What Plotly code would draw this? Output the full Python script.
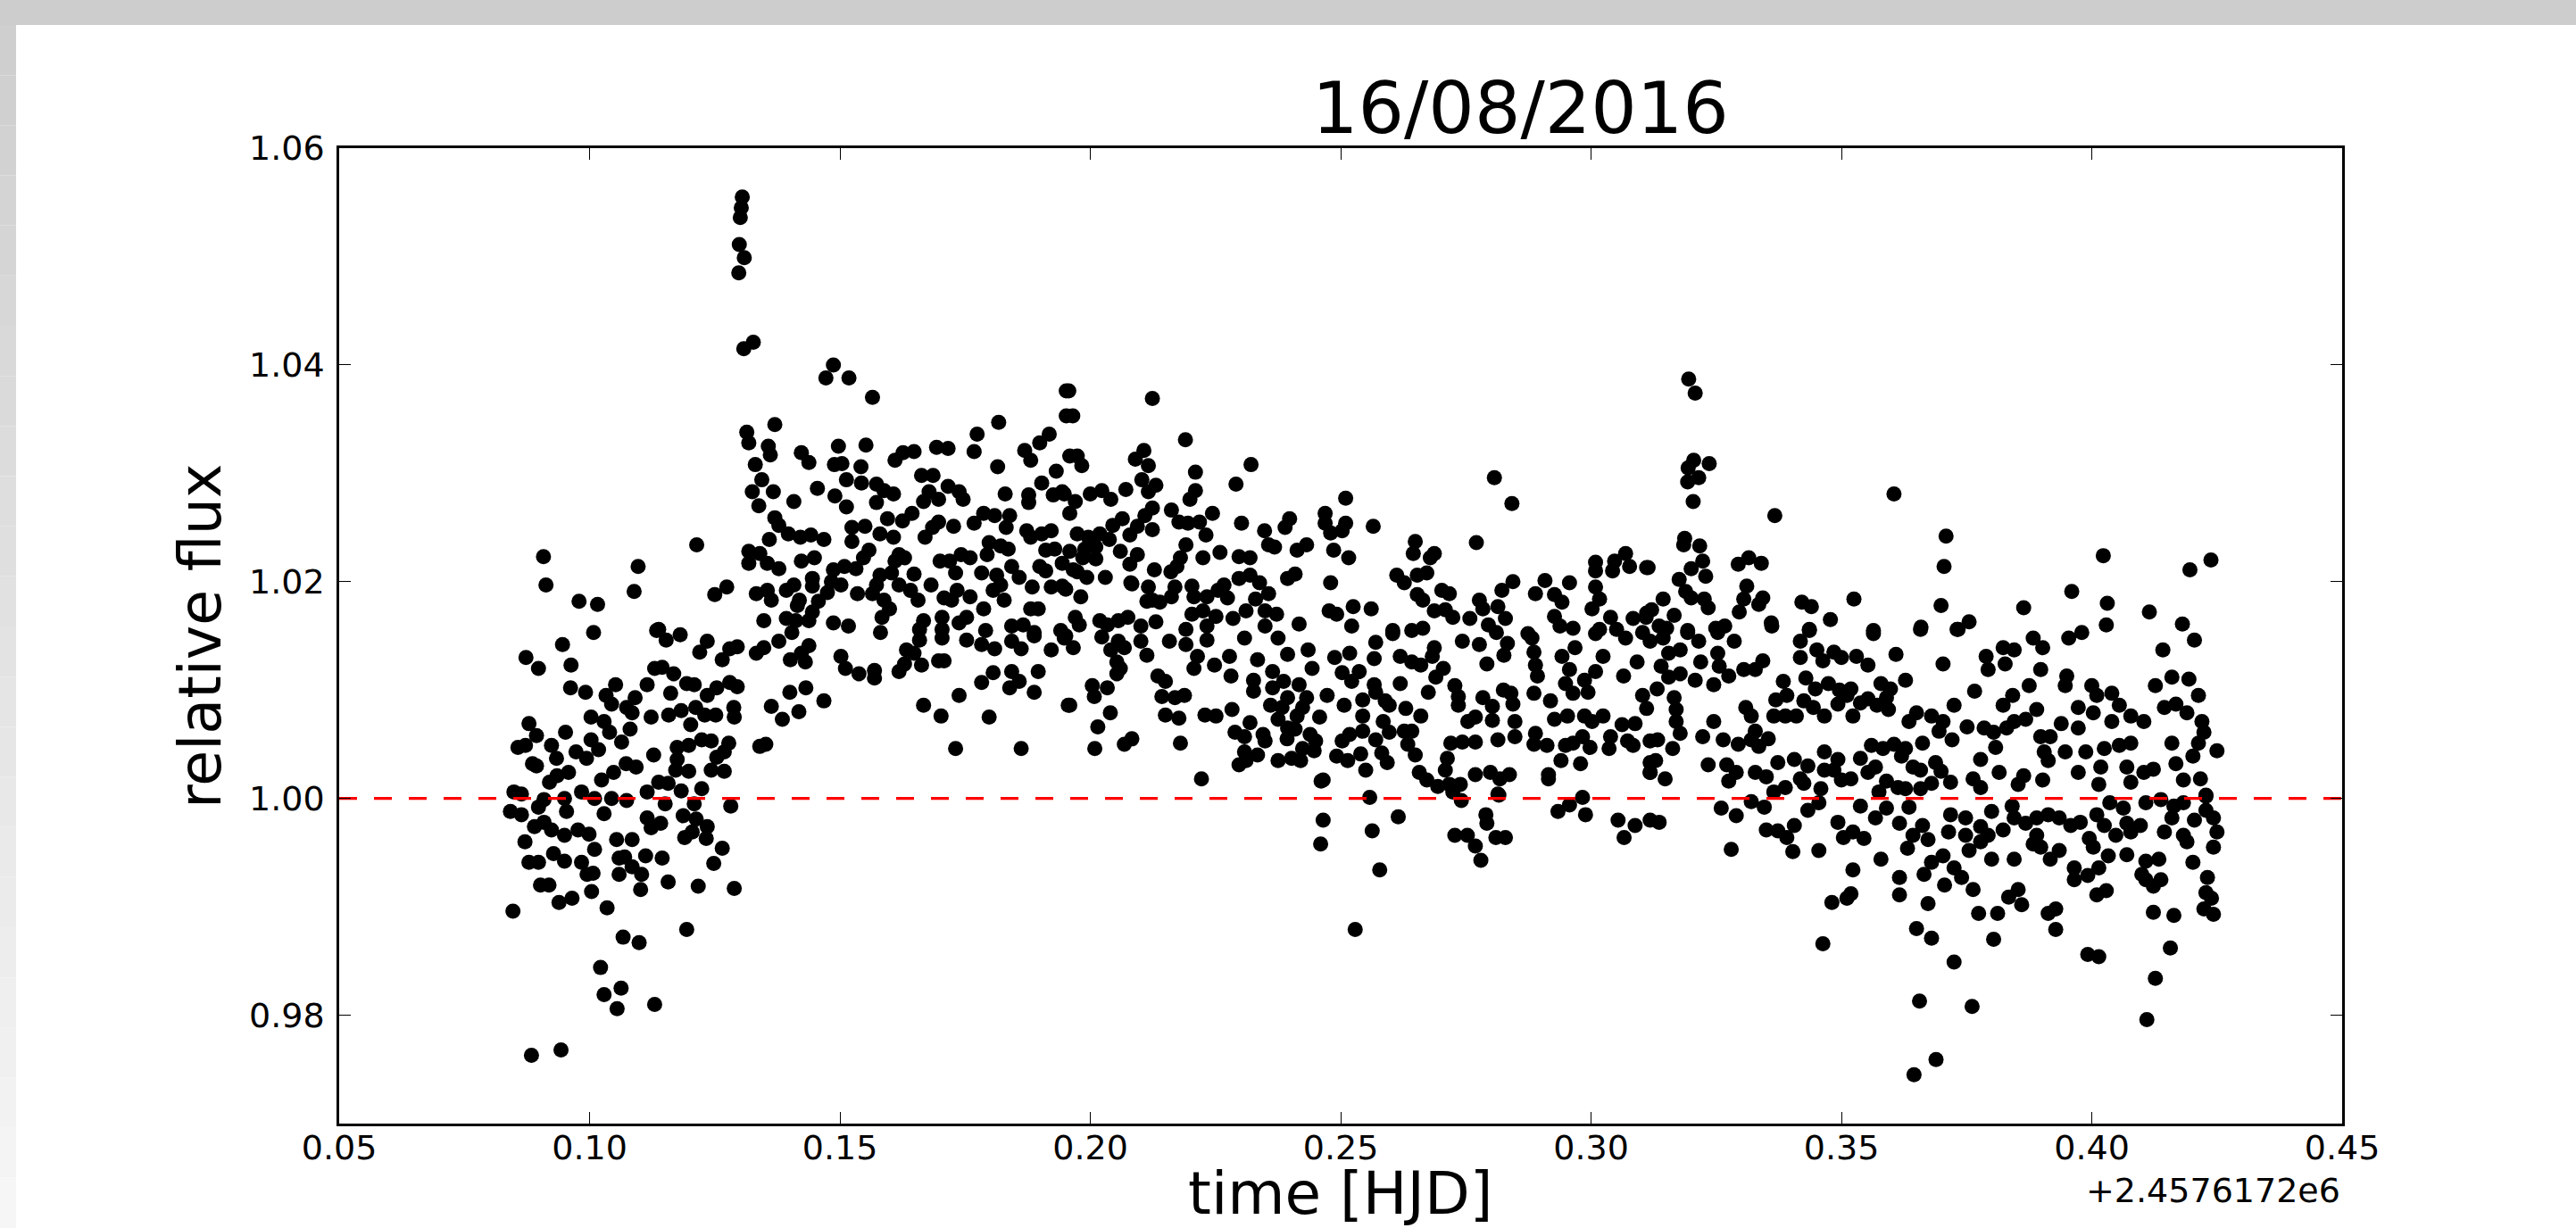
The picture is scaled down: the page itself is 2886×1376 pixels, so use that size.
import plotly.graph_objects as go

# ---------------- data ----------------
# (time offset from 2.4576172e6 HJD, relative flux)
SEG_PRE = [
    (0.1008,1.0153),(0.0946,1.0142),(0.0873,1.0130),(0.0898,1.0120),(0.0963,1.0123),(0.0962,1.0102),
    (0.0992,1.0098),(0.1033,1.0095),(0.1052,1.0105),(0.1044,1.0087),(0.1003,1.0075),(0.1029,1.0071),
    (0.0879,1.0069),(0.0894,1.0058),(0.0952,1.0061),(0.0872,1.0049),(0.0857,1.0047),(0.0924,1.0049),
    (0.0934,1.0037),(0.0973,1.0043),(0.0994,1.0037),(0.1003,1.0054),(0.1018,1.0045),(0.1040,1.0061),
    (0.1064,1.0052),(0.0886,1.0032),(0.0894,1.0030),(0.0958,1.0024),(0.0935,1.0021),(0.0920,1.0015),
    (0.1024,1.0017),(0.1048,1.0024),(0.1073,1.0032),(0.1093,1.0029),(0.1074,1.0084),(0.1085,1.0079),
    (0.1081,1.0064),(0.1091,1.0093),(0.1115,1.0105),(0.1130,1.0120),(0.1145,1.0121),(0.1168,1.0115),
    (0.1123,1.0075),(0.1158,1.0077),(0.1183,1.0081),(0.1212,1.0084),(0.1230,1.0077),(0.1252,1.0077),
    (0.1162,1.0097),(0.1194,1.0106),(0.1209,1.0105),(0.1235,1.0095),(0.1254,1.0102),(0.1280,1.0107),
    (0.1295,1.0103),(0.1288,1.0084),(0.1289,1.0075),(0.1202,1.0068),(0.1128,1.0040),(0.1175,1.0047),
    (0.1198,1.0049),(0.1224,1.0054),(0.1243,1.0053),(0.1278,1.0051),(0.1269,1.0043),(0.1254,1.0038),
    (0.1243,1.0026),(0.1269,1.0025),(0.1175,1.0036),(0.1172,1.0026),(0.1198,1.0025),(0.1138,1.0015),
    (0.1157,1.0014),(0.1183,1.0007),(0.1224,1.0009),(0.1115,1.0006),(0.0849,1.0006),(0.0864,1.0004),
    (0.0909,0.9999),(0.0950,1.0000),(0.0984,1.0006),(0.1010,1.0000),(0.1044,1.0000),(0.1074,0.9998),
    (0.0842,0.9988),(0.0864,0.9985),(0.0898,0.9992),(0.0954,0.9988),(0.1029,0.9986),(0.1151,0.9995),
    (0.1209,0.9995),(0.1282,0.9993),(0.1115,0.9982),(0.1142,0.9977),(0.1123,0.9973),(0.1187,0.9984),
    (0.1213,0.9981),(0.1235,0.9974),(0.1190,0.9964),(0.1205,0.9969),(0.1233,0.9963),(0.0909,0.9978),
    (0.0924,0.9971),(0.0890,0.9974),(0.0871,0.9960),(0.0950,0.9966),(0.0977,0.9971),(0.0999,0.9967),
    (0.1010,0.9953),(0.1054,0.9962),(0.1085,0.9962),(0.0879,0.9941),(0.0898,0.9941),(0.0928,0.9949),
    (0.0950,0.9942),(0.0984,0.9941),(0.0995,0.9930),(0.1007,0.9931),(0.1059,0.9945),(0.1070,0.9946),
    (0.1112,0.9947),(0.1145,0.9945),(0.1059,0.9930),(0.1104,0.9930),(0.1085,0.9937),(0.1265,0.9954),
    (0.1248,0.9940),(0.0902,0.9920),(0.0919,0.9920),(0.0939,0.9904),(0.0965,0.9908),(0.1004,0.9914),
    (0.1035,0.9899),(0.1102,0.9916),(0.1157,0.9923),(0.1217,0.9919),(0.1289,0.9917),(0.0847,0.9896),
    (0.1194,0.9879),(0.1067,0.9872),(0.1099,0.9867),(0.1022,0.9844),(0.1063,0.9825),(0.1029,0.9819),
    (0.1055,0.9806),(0.1130,0.9810),(0.0884,0.9763),(0.0943,0.9768),(0.1235,1.0145),(0.1220,1.0135),
    (0.1265,1.0128),(0.1280,1.0138),(0.1295,1.0140),(0.1134,1.0155),(0.1153,1.0146),(0.1181,1.0151),
    (0.0908,1.0223),(0.0913,1.0197),(0.1097,1.0214),(0.1089,1.0191),(0.0979,1.0182),(0.1016,1.0179),
    (0.1214,1.0234),(0.1250,1.0188),(0.1274,1.0195),(0.1138,1.0156),
]

SEG_SPIKE = [
    (0.1305,1.0555),(0.1303,1.0545),(0.1301,1.0536),(0.1299,1.0511),(0.1309,1.0499),(0.1298,1.0485),
    (0.1308,1.0415),(0.1327,1.0421),
]

SEG_MID1 = [
    (0.1314,1.0338),(0.1318,1.0328),(0.1370,1.0345),(0.1357,1.0325),(0.1361,1.0317),(0.1331,1.0308),
    (0.1344,1.0294),(0.1325,1.0283),(0.1367,1.0283),(0.1338,1.0270),(0.1408,1.0274),(0.1423,1.0319),
    (0.1438,1.0310),(0.1455,1.0286),(0.1490,1.0279),(0.1513,1.0269),(0.1497,1.0325),(0.1489,1.0308),
    (0.1504,1.0309),(0.1552,1.0326),(0.1542,1.0306),(0.1513,1.0294),(0.1543,1.0291),(0.1573,1.0290),
    (0.1588,1.0284),(0.1607,1.0281),(0.1573,1.0273),(0.1610,1.0312),(0.1626,1.0319),(0.1648,1.0320),
    (0.1693,1.0324),(0.1716,1.0323),(0.1768,1.0320),(0.1774,1.0336),(0.1817,1.0347),(0.1663,1.0298),
    (0.1686,1.0298),(0.1678,1.0283),(0.1667,1.0274),(0.1697,1.0276),(0.1716,1.0288),(0.1738,1.0283),
    (0.1746,1.0276),(0.1815,1.0306),(0.1830,1.0281),(0.1869,1.0321),(0.1881,1.0312),(0.1899,1.0328),
    (0.1918,1.0336),(0.1932,1.0302),(0.1877,1.0280),(0.1903,1.0291),(0.1926,1.0280),(0.1944,1.0283),
    (0.1877,1.0273),(0.1952,1.0376),(0.1952,1.0353),(0.1959,1.0316),
    (0.1487,1.0400),(0.1472,1.0388),(0.1518,1.0388),(0.1565,1.0370),
    (0.1370,1.0259),(0.1378,1.0252),(0.1397,1.0244),(0.1359,1.0239),(0.1318,1.0228),(0.1340,1.0226),
    (0.1318,1.0217),(0.1355,1.0217),(0.1378,1.0212),(0.1421,1.0241),(0.1442,1.0243),(0.1468,1.0239),
    (0.1423,1.0219),(0.1449,1.0222),(0.1445,1.0203),(0.1487,1.0211),(0.1509,1.0214),(0.1532,1.0212),
    (0.1524,1.0250),(0.1550,1.0251),(0.1524,1.0237),(0.1580,1.0244),(0.1607,1.0241),(0.1558,1.0229),
    (0.1547,1.0222),(0.1595,1.0258),(0.1625,1.0256),(0.1644,1.0263),(0.1697,1.0255),(0.1685,1.0250),
    (0.1670,1.0241),(0.1727,1.0251),(0.1768,1.0254),(0.1787,1.0263),(0.1809,1.0261),(0.1839,1.0261),
    (0.1832,1.0250),(0.1798,1.0236),(0.1821,1.0233),(0.1836,1.0230),(0.1794,1.0225),(0.1760,1.0222),
    (0.1742,1.0225),(0.1719,1.0219),(0.1700,1.0219),(0.1731,1.0208),(0.1783,1.0208),(0.1813,1.0206),
    (0.1843,1.0214),(0.1858,1.0204),(0.1873,1.0247),(0.1881,1.0241),(0.1903,1.0244),(0.1922,1.0247),
    (0.1911,1.0229),(0.1929,1.0230),(0.1899,1.0214),(0.1911,1.0210),(0.1944,1.0217),(0.1618,1.0225),
    (0.1629,1.0222),(0.1610,1.0219),(0.1603,1.0208),(0.1648,1.0207),(0.1618,1.0197),(0.1641,1.0192),
    (0.1580,1.0206),(0.1573,1.0197),(0.1565,1.0189),(0.1535,1.0189),(0.1502,1.0197),(0.1483,1.0200),
    (0.1457,1.0182),(0.1445,1.0196),(0.1475,1.0190),(0.1419,1.0183),(0.1408,1.0197),(0.1393,1.0192),
    (0.1355,1.0192),(0.1333,1.0189),(0.1363,1.0183),(0.1415,1.0178),(0.1445,1.0172),(0.1438,1.0164),
    (0.1412,1.0164),(0.1393,1.0166),(0.1348,1.0164),(0.1487,1.0162),(0.1517,1.0159),(0.1584,1.0167),
    (0.1599,1.0175),(0.1588,1.0183),(0.1656,1.0183),(0.1682,1.0197),(0.1708,1.0185),(0.1723,1.0183),
    (0.1734,1.0192),(0.1760,1.0186),(0.1787,1.0175),(0.1791,1.0155),(0.1704,1.0167),(0.1738,1.0162),
    (0.1753,1.0167),(0.1667,1.0164),(0.1659,1.0156),(0.1704,1.0156),(0.1806,1.0192),(0.1828,1.0183),
    (0.1821,1.0197),(0.1884,1.0195),(0.1881,1.0175),(0.1896,1.0175),(0.1922,1.0195),(0.1944,1.0196),
    (0.1843,1.0159),(0.1866,1.0160),(0.1888,1.0153),(0.1941,1.0155),
    (0.1333,1.0134),(0.1348,1.0139),(0.1378,1.0145),(0.1401,1.0128),(0.1431,1.0126),(0.1438,1.0141),
    (0.1423,1.0134),(0.1404,1.0153),(0.1363,1.0085),(0.1385,1.0073),(0.1400,1.0098),(0.1418,1.0080),
    (0.1432,1.0102),(0.1468,1.0090),(0.1340,1.0048),(0.1352,1.0050),(0.1502,1.0131),(0.1511,1.0120),
    (0.1538,1.0115),(0.1569,1.0118),(0.1569,1.0111),(0.1618,1.0117),(0.1629,1.0124),(0.1663,1.0123),
    (0.1633,1.0137),(0.1648,1.0134),(0.1581,1.0153),(0.1667,1.0086),(0.1702,1.0076),(0.1738,1.0095),
    (0.1798,1.0075),(0.1708,1.0127),(0.1731,1.0046),(0.1862,1.0046),(0.1783,1.0107),(0.1806,1.0116),
    (0.1843,1.0117),(0.1858,1.0108),(0.1839,1.0102),(0.1888,1.0098),(0.1896,1.0117),(0.1809,1.0138),
    (0.1843,1.0145),(0.1862,1.0138),(0.1922,1.0137),(0.1888,1.0150),(0.1948,1.0148),(0.1956,1.0086),
    (0.1659,1.0146),(0.1704,1.0148),(0.1753,1.0146),(0.1783,1.0142),(0.1697,1.0127),
]

SEG_MID2 = [
    (0.1957,1.0376),(0.1965,1.0353),(0.2124,1.0369),(0.2190,1.0331),(0.1974,1.0316),(0.1983,1.0307),
    (0.2107,1.0321),(0.2090,1.0313),(0.2116,1.0307),(0.2210,1.0301),(0.2321,1.0308),(0.2291,1.0290),
    (0.2210,1.0284),(0.2199,1.0276),(0.2103,1.0294),(0.2131,1.0289),(0.2116,1.0283),(0.1948,1.0281),
    (0.1970,1.0274),(0.1959,1.0263),(0.2000,1.0281),(0.2023,1.0284),(0.2041,1.0276),(0.2071,1.0285),
    (0.2162,1.0266),(0.2124,1.0268),(0.2109,1.0261),(0.2244,1.0263),(0.2177,1.0255),(0.2195,1.0254),
    (0.2218,1.0255),(0.2064,1.0258),(0.2045,1.0252),(0.2124,1.0248),(0.2094,1.0251),(0.2079,1.0243),
    (0.2231,1.0243),(0.2302,1.0254),(0.2348,1.0247),(0.2389,1.0250),(0.2398,1.0258),(0.2469,1.0263),
    (0.2469,1.0254),(0.2510,1.0254),(0.2480,1.0245),(0.2503,1.0247),(0.2510,1.0277),(0.2565,1.0251),
    (0.1974,1.0244),(0.1996,1.0241),(0.2019,1.0244),(0.2038,1.0239),(0.1989,1.0230),(0.2011,1.0232),
    (0.1985,1.0222),(0.2011,1.0221),(0.1959,1.0228),(0.2060,1.0228),(0.2094,1.0225),(0.2079,1.0216),
    (0.2083,1.0198),(0.2191,1.0234),(0.2180,1.0222),(0.2225,1.0222),(0.2259,1.0227),(0.2297,1.0223),
    (0.2319,1.0222),(0.2356,1.0234),(0.2368,1.0232),(0.2413,1.0229),(0.2432,1.0234),(0.2486,1.0229),
    (0.2516,1.0222),(0.2649,1.0237),(0.2645,1.0226),(0.2679,1.0222),(0.2687,1.0226),(0.2771,1.0236),
    (0.2807,1.0296),(0.2842,1.0272),(0.3009,1.0218),(0.3009,1.0210),(0.3047,1.0219),(0.3069,1.0226),
    (0.3077,1.0214),(0.3111,1.0213),(0.3043,1.0210),(0.2128,1.0211),(0.2161,1.0209),(0.2173,1.0214),
    (0.2030,1.0204),(0.1993,1.0204),(0.1974,1.0209),(0.1966,1.0211),(0.1951,1.0193),(0.1981,1.0186),
    (0.2081,1.0199),(0.2116,1.0195),(0.2124,1.0183),(0.2113,1.0182),(0.2139,1.0181),(0.2169,1.0195),
    (0.2162,1.0186),(0.2203,1.0196),(0.2207,1.0186),(0.2233,1.0186),(0.2255,1.0192),(0.2267,1.0197),
    (0.2274,1.0185),(0.2297,1.0203),(0.2319,1.0206),(0.2338,1.0199),(0.2356,1.0189),(0.2330,1.0184),
    (0.2394,1.0203),(0.2409,1.0207),(0.2480,1.0199),(0.2612,1.0206),(0.2627,1.0199),(0.2653,1.0206),
    (0.2672,1.0208),(0.2653,1.0188),(0.2664,1.0183),(0.2702,1.0192),(0.2717,1.0189),(0.2822,1.0192),
    (0.2844,1.0200),(0.2889,1.0189),(0.2908,1.0201),(0.2927,1.0188),(0.2957,1.0199),(0.2942,1.0181),
    (0.3009,1.0195),(0.3017,1.0184),(0.3002,1.0175),(0.2777,1.0183),(0.2784,1.0175),(0.2814,1.0177),
    (0.2829,1.0166),(0.1970,1.0167),(0.1978,1.0160),(0.2019,1.0164),(0.2034,1.0160),(0.2056,1.0164),
    (0.2075,1.0167),(0.2101,1.0159),(0.2131,1.0163),(0.2191,1.0156),(0.2233,1.0159),(0.2203,1.0170),
    (0.2225,1.0173),(0.2251,1.0168),(0.2311,1.0173),(0.2349,1.0173),(0.2372,1.0170),(0.2285,1.0166),
    (0.2349,1.0159),(0.2417,1.0161),(0.2477,1.0173),(0.2492,1.0170),(0.2522,1.0159),(0.2525,1.0177),
    (0.2561,1.0175),(0.2604,1.0155),(0.2642,1.0155),(0.2664,1.0157),(0.2687,1.0173),(0.2709,1.0174),
    (0.2724,1.0167),(0.2758,1.0166),(0.2795,1.0160),(0.2874,1.0152),(0.2927,1.0168),(0.2938,1.0159),
    (0.2964,1.0157),(0.3017,1.0156),(0.3039,1.0167),(0.3051,1.0156),(0.3084,1.0166),(0.3111,1.0171),
    (0.1951,1.0150),(0.1966,1.0139),(0.2023,1.0149),(0.2056,1.0145),(0.2041,1.0137),(0.2068,1.0139),
    (0.2101,1.0145),(0.2113,1.0132),(0.2053,1.0126),(0.2060,1.0120),(0.2053,1.0115),(0.2004,1.0104),
    (0.2034,1.0102),(0.2008,1.0094),(0.1959,1.0086),(0.2040,1.0079),(0.2015,1.0066),(0.2009,1.0046),
    (0.2083,1.0055),(0.2068,1.0050),(0.2158,1.0145),(0.2191,1.0142),(0.2233,1.0146),(0.2214,1.0131),
    (0.2207,1.0120),(0.2135,1.0113),(0.2150,1.0108),(0.2143,1.0094),(0.2169,1.0093),(0.2188,1.0095),
    (0.2150,1.0077),(0.2177,1.0074),(0.2180,1.0051),(0.2248,1.0123),(0.2278,1.0131),(0.2281,1.0113),
    (0.2308,1.0148),(0.2334,1.0128),(0.2326,1.0109),(0.2326,1.0099),(0.2229,1.0077),(0.2251,1.0076),
    (0.2283,1.0082),(0.2319,1.0070),(0.2364,1.0117),(0.2364,1.0102),(0.2386,1.0108),(0.2375,1.0148),
    (0.2394,1.0133),(0.2435,1.0137),(0.2417,1.0105),(0.2443,1.0120),(0.2432,1.0093),(0.2394,1.0093),
    (0.2360,1.0086),(0.2383,1.0084),(0.2375,1.0073),(0.2413,1.0076),(0.2424,1.0084),(0.2458,1.0075),
    (0.2394,1.0065),(0.2409,1.0064),(0.2289,1.0061),(0.2308,1.0057),(0.2345,1.0059),(0.2349,1.0053),
    (0.2393,1.0055),(0.2439,1.0059),(0.2450,1.0053),(0.2447,1.0044),(0.2424,1.0046),(0.2402,1.0037),
    (0.2420,1.0035),(0.2375,1.0035),(0.2334,1.0040),(0.2308,1.0043),(0.2297,1.0031),(0.2311,1.0035),
    (0.2473,1.0095),(0.2507,1.0086),(0.2544,1.0076),(0.2544,1.0091),(0.2567,1.0105),(0.2589,1.0090),
    (0.2597,1.0086),(0.2585,1.0071),(0.2570,1.0098),(0.2488,1.0130),(0.2518,1.0134),(0.2503,1.0116),
    (0.2537,1.0117),(0.2522,1.0108),(0.2570,1.0144),(0.2567,1.0129),(0.2604,1.0152),(0.2619,1.0131),
    (0.2642,1.0126),(0.2619,1.0106),(0.2660,1.0123),(0.2683,1.0131),(0.2687,1.0139),(0.2705,1.0120),
    (0.2690,1.0112),(0.2675,1.0098),(0.2630,1.0083),(0.2660,1.0076),(0.2597,1.0061),(0.2627,1.0062),
    (0.2642,1.0062),(0.2634,1.0050),(0.2649,1.0040),(0.2593,1.0033),(0.2582,1.0042),(0.2570,1.0054),
    (0.2544,1.0062),(0.2518,1.0059),(0.2503,1.0053),(0.2492,1.0039),(0.2514,1.0035),(0.2540,1.0041),
    (0.2550,1.0026),(0.2657,1.0024),(0.2672,1.0017),(0.2694,1.0011),(0.2717,1.0013),(0.2739,1.0013),
    (0.2724,1.0006),(0.2713,1.0037),(0.2709,1.0026),(0.2720,1.0051),(0.2743,1.0052),(0.2769,1.0052),
    (0.2754,1.0071),(0.2769,1.0075),(0.2803,1.0072),(0.2814,1.0054),(0.2848,1.0057),(0.2848,1.0071),
    (0.2735,1.0086),(0.2735,1.0094),(0.2728,1.0104),(0.2784,1.0093),(0.2803,1.0085),(0.2825,1.0100),
    (0.2840,1.0097),(0.2844,1.0087),(0.2743,1.0145),(0.2777,1.0142),(0.2792,1.0124),(0.2811,1.0153),
    (0.2833,1.0143),(0.2826,1.0132),(0.2769,1.0022),(0.2799,1.0024),(0.2818,1.0018),(0.2837,1.0022),
    (0.2814,1.0004),(0.2915,1.0022),(0.2915,1.0018),(0.2940,1.0035),(0.2979,1.0032),(0.2882,1.0148),
    (0.2886,1.0135),(0.2889,1.0123),(0.2893,1.0113),(0.2886,1.0097),(0.2919,1.0090),(0.2942,1.0131),
    (0.2957,1.0119),(0.2949,1.0106),(0.2968,1.0139),(0.3009,1.0152),(0.3024,1.0131),(0.3069,1.0148),
    (0.3092,1.0126),(0.3065,1.0113),(0.3009,1.0117),(0.2987,1.0109),(0.2994,1.0098),(0.2964,1.0097),
    (0.2927,1.0073),(0.2953,1.0076),(0.2987,1.0076),(0.3002,1.0071),(0.3024,1.0076),(0.3062,1.0068),
    (0.3088,1.0069),(0.3111,1.0083),(0.2889,1.0060),(0.2886,1.0050),(0.2912,1.0049),(0.2949,1.0049),
    (0.2964,1.0051),(0.2983,1.0057),(0.2998,1.0047),(0.3039,1.0057),(0.3036,1.0046),(0.3073,1.0053),
    (0.3084,1.0049),(0.3118,1.0053),(0.3118,1.0033),(0.3118,1.0024),(0.2222,1.0018),(0.2461,1.0016),
    (0.2465,1.0017),(0.2558,1.0001),(0.2741,0.9998),(0.2816,1.0003),(0.2983,1.0001),(0.2957,0.9994),
    (0.2934,0.9988),(0.2465,0.9980),(0.2460,0.9958),(0.2563,0.9970),(0.2615,0.9983),(0.2578,0.9934),
    (0.2529,0.9879),(0.2790,0.9985),(0.2792,0.9977),(0.2728,0.9966),(0.2753,0.9966),(0.2769,0.9956),
    (0.2780,0.9943),(0.2810,0.9964),(0.2829,0.9964),(0.2989,0.9985),(0.3054,0.9980),(0.3088,0.9975),
    (0.3066,0.9964),(0.3118,0.9980),
]

SEG_LATE = [
    (0.3195,1.0387),(0.3208,1.0374),(0.3205,1.0312),(0.3236,1.0309),(0.3194,1.0305),(0.3215,1.0296),
    (0.3193,1.0292),(0.3204,1.0274),(0.3605,1.0281),(0.3367,1.0261),(0.3709,1.0242),(0.3705,1.0214),
    (0.3699,1.0178),(0.3187,1.0240),(0.3185,1.0234),(0.3217,1.0233),(0.3223,1.0219),(0.3200,1.0212),
    (0.3229,1.0205),(0.3176,1.0202),(0.3189,1.0191),(0.3200,1.0185),(0.3226,1.0184),(0.3234,1.0176),
    (0.3114,1.0213),(0.3144,1.0184),(0.3121,1.0174),(0.3166,1.0169),(0.3110,1.0167),(0.3136,1.0159),
    (0.3151,1.0157),(0.3294,1.0216),(0.3315,1.0222),(0.3340,1.0217),(0.3311,1.0196),(0.3305,1.0184),
    (0.3343,1.0185),(0.3335,1.0179),(0.3296,1.0172),(0.3360,1.0162),(0.3249,1.0157),(0.3267,1.0159),
    (0.3193,1.0155),(0.3421,1.0181),(0.3440,1.0177),(0.3478,1.0165),(0.3436,1.0156),(0.3525,1.0184),
    (0.3564,1.0155),(0.3659,1.0158),(0.3731,1.0156),(0.3755,1.0163),(0.3864,1.0176),(0.3960,1.0191),
    (0.4023,1.0224),(0.4031,1.0180),(0.4029,1.0160),(0.4115,1.0172),(0.4196,1.0211),(0.4238,1.0220),
    (0.4181,1.0161),
    (0.3103,1.0153),(0.3118,1.0145),(0.3144,1.0148),(0.3155,1.0134),(0.3178,1.0137),(0.3193,1.0153),
    (0.3215,1.0145),(0.3253,1.0153),(0.3253,1.0134),(0.3286,1.0145),(0.3219,1.0126),(0.3256,1.0122),
    (0.3140,1.0122),(0.3155,1.0112),(0.3178,1.0115),(0.3208,1.0109),(0.3245,1.0105),(0.3275,1.0113),
    (0.3305,1.0119),(0.3328,1.0119),(0.3343,1.0127),(0.3361,1.0159),(0.3436,1.0155),(0.3418,1.0145),
    (0.3418,1.0130),(0.3451,1.0137),(0.3463,1.0127),(0.3485,1.0135),(0.3500,1.0130),(0.3530,1.0131),
    (0.3553,1.0123),(0.3564,1.0152),(0.3609,1.0133),(0.3658,1.0156),(0.3703,1.0124),(0.3733,1.0156),
    (0.3628,1.0109),(0.3579,1.0106),(0.3598,1.0101),(0.3519,1.0101),(0.3496,1.0100),(0.3474,1.0106),
    (0.3429,1.0111),(0.3384,1.0108),(0.3369,1.0091),(0.3391,1.0095),(0.3425,1.0090),(0.3448,1.0101),
    (0.3388,1.0076),(0.3365,1.0076),(0.3410,1.0076),(0.3444,1.0084),(0.3466,1.0076),(0.3493,1.0087),
    (0.3511,1.0095),(0.3538,1.0088),(0.3553,1.0092),(0.3571,1.0086),(0.3594,1.0082),(0.3590,1.0093),
    (0.3523,1.0076),(0.3103,1.0095),(0.3132,1.0101),(0.3166,1.0093),(0.3170,1.0082),(0.3170,1.0071),
    (0.3178,1.0060),(0.3163,1.0046),(0.3133,1.0054),(0.3129,1.0035),(0.3118,1.0024),(0.3148,1.0018),
    (0.3223,1.0057),(0.3245,1.0071),(0.3264,1.0054),(0.3234,1.0031),(0.3271,1.0031),(0.3290,1.0024),
    (0.3275,1.0016),(0.3294,1.0050),(0.3320,1.0054),(0.3328,1.0062),(0.3309,1.0084),(0.3320,1.0076),
    (0.3335,1.0048),(0.3354,1.0055),(0.3328,1.0024),(0.3350,1.0020),(0.3373,1.0033),(0.3406,1.0036),
    (0.3433,1.0030),(0.3418,1.0018),(0.3388,1.0010),(0.3365,1.0006),(0.3425,1.0014),(0.3459,1.0009),
    (0.3466,1.0043),(0.3466,1.0026),(0.3493,1.0036),(0.3500,1.0017),(0.3519,1.0018),(0.3485,1.0026),
    (0.3538,1.0037),(0.3560,1.0049),(0.3583,1.0046),(0.3605,1.0050),(0.3628,1.0046),(0.3620,1.0039),
    (0.3568,1.0029),(0.3553,1.0024),(0.3590,1.0016),(0.3613,1.0010),(0.3643,1.0029),(0.3658,1.0026),
    (0.3688,1.0033),(0.3699,1.0025),(0.3718,1.0015),(0.3680,1.0014),(0.3658,1.0009),(0.3628,1.0009),
    (0.3575,1.0006),(0.3635,1.0071),(0.3650,1.0079),(0.3680,1.0076),(0.3703,1.0071),(0.3695,1.0062),
    (0.3662,1.0051),(0.3721,1.0054),(0.3725,1.0086),(0.3751,1.0066),(0.3766,1.0099),(0.3785,1.0065),
    (0.3804,1.0061),(0.3808,1.0047),(0.3830,1.0065),(0.3845,1.0071),(0.3823,1.0086),(0.3842,1.0095),
    (0.3875,1.0104),(0.3890,1.0082),(0.3898,1.0119),(0.3883,1.0148),(0.3902,1.0139),(0.3868,1.0073),
    (0.3898,1.0057),(0.3917,1.0057),(0.3905,1.0043),(0.3913,1.0035),(0.3947,1.0043),(0.3939,1.0069),
    (0.3973,1.0084),(0.4003,1.0079),(0.3973,1.0065),(0.3988,1.0043),(0.3980,1.0153),(0.3954,1.0148),
    (0.3823,1.0139),(0.3845,1.0137),(0.3789,1.0131),(0.3827,1.0124),(0.3793,1.0119),(0.3950,1.0113),
    (0.3947,1.0104),(0.4000,1.0104),(0.4010,1.0095),(0.4040,1.0097),(0.4055,1.0086),(0.4078,1.0076),
    (0.4104,1.0071),(0.4040,1.0071),(0.4025,1.0046),(0.4055,1.0049),(0.4078,1.0051),(0.4018,1.0029),
    (0.4070,1.0029),(0.4078,1.0015),(0.4104,1.0024),(0.4123,1.0027),(0.4014,1.0013),(0.3973,1.0024),
    (0.3902,1.0017),(0.3864,1.0021),(0.3853,1.0013),(0.3815,1.0024),(0.3778,1.0036),(0.3763,1.0018),
    (0.3778,1.0010),(0.4142,1.0137),(0.4160,1.0112),(0.4194,1.0110),(0.4205,1.0146),(0.4213,1.0095),
    (0.4127,1.0104),(0.4145,1.0084),(0.4168,1.0087),(0.4190,1.0079),(0.4220,1.0071),(0.4224,1.0061),
    (0.4213,1.0051),(0.4160,1.0051),(0.4168,1.0032),(0.4202,1.0039),(0.4183,1.0017),(0.4217,1.0018),
    (0.4250,1.0044),(0.4228,1.0003),
    (0.3136,0.9978),(0.3260,0.9991),(0.3290,0.9984),(0.3320,0.9997),(0.3346,0.9992),(0.3433,0.9989),
    (0.3455,0.9996),(0.3350,0.9971),(0.3373,0.9970),(0.3391,0.9964),(0.3406,0.9975),(0.3493,0.9978),
    (0.3504,0.9964),(0.3523,0.9969),(0.3545,0.9963),(0.3403,0.9951),(0.3455,0.9952),(0.3280,0.9953),
    (0.3538,0.9993),(0.3568,0.9982),(0.3590,0.9991),(0.3616,0.9977),(0.3635,0.9992),(0.3662,0.9975),
    (0.3673,0.9962),(0.3643,0.9966),(0.3632,0.9954),(0.3665,0.9930),(0.3579,0.9944),(0.3523,0.9934),
    (0.3616,0.9927),(0.3481,0.9904),(0.3511,0.9908),(0.3519,0.9912),(0.3616,0.9911),(0.3673,0.9903),
    (0.3718,0.9985),(0.3748,0.9982),(0.3778,0.9974),(0.3793,0.9966),(0.3823,0.9971),(0.3800,0.9988),
    (0.3845,0.9982),(0.3841,0.9993),(0.3868,0.9977),(0.3890,0.9982),(0.3913,0.9985),(0.3935,0.9982),
    (0.3958,0.9975),(0.3977,0.9978),(0.3890,0.9966),(0.3883,0.9958),(0.3898,0.9955),(0.3935,0.9952),
    (0.3917,0.9944),(0.3714,0.9969),(0.3748,0.9966),(0.3755,0.9952),(0.3778,0.9960),(0.3800,0.9944),
    (0.3845,0.9944),(0.3680,0.9941),(0.3703,0.9947),(0.3725,0.9936),(0.3740,0.9927),(0.3763,0.9916),
    (0.3706,0.9920),(0.3774,0.9894),(0.3812,0.9894),(0.3834,0.9909),(0.3853,0.9916),(0.3860,0.9902),
    (0.3913,0.9894),(0.3928,0.9898),(0.3928,0.9879),(0.3804,0.9870),(0.3725,0.9849),(0.3650,0.9880),
    (0.3680,0.9871),(0.3463,0.9866),(0.4010,0.9985),(0.4025,0.9975),(0.4048,0.9966),(0.4070,0.9977),
    (0.4097,0.9975),(0.4078,0.9969),(0.3995,0.9963),(0.4003,0.9955),(0.4033,0.9947),(0.4070,0.9948),
    (0.4014,0.9936),(0.3992,0.9929),(0.3965,0.9936),(0.3965,0.9925),(0.4010,0.9911),(0.4029,0.9915),
    (0.4108,0.9942),(0.4134,0.9944),(0.4108,0.9925),(0.4123,0.9919),(0.4138,0.9925),(0.4100,0.9930),
    (0.4123,0.9895),(0.4164,0.9892),(0.4157,0.9862),(0.3992,0.9856),(0.4014,0.9854),(0.4127,0.9834),
    (0.4110,0.9796),(0.4036,0.9996),(0.4063,0.9991),(0.4108,0.9996),(0.4138,0.9999),(0.4164,0.9993),
    (0.4183,0.9996),(0.4205,0.9980),(0.4228,0.9989),(0.4243,0.9982),(0.4250,0.9969),(0.4243,0.9955),
    (0.4202,0.9941),(0.4183,0.9966),(0.4190,0.9960),(0.4145,0.9969),(0.4160,0.9982),(0.4231,0.9927),
    (0.4228,0.9913),(0.4239,0.9908),(0.4224,0.9898),(0.4243,0.9893),(0.4228,1.0002),
    (0.3656,0.9813),(0.3761,0.9808),(0.3689,0.9759),(0.3645,0.9745),
]

X_RANGE = [0.05, 0.45]
Y_RANGE = [0.97, 1.06]
X_TICKS = [0.05, 0.10, 0.15, 0.20, 0.25, 0.30, 0.35, 0.40, 0.45]
X_TICK_LABELS = ["0.05", "0.10", "0.15", "0.20", "0.25", "0.30", "0.35", "0.40", "0.45"]
Y_TICKS = [0.98, 1.00, 1.02, 1.04, 1.06]
Y_TICK_LABELS = ["0.98", "1.00", "1.02", "1.04", "1.06"]
REF_FLUX = 1.0
TITLE = "16/08/2016"
X_LABEL = "time [HJD]"
Y_LABEL = "relative flux"
X_OFFSET_TEXT = "+2.4576172e6"

# ---------------- layout geometry ----------------
W, H = 2886, 1376
ML, MR, MT, MB = 380, 262, 166, 117
PW, PH = W - ML - MR, H - MT - MB
FONT = "DejaVu Sans"


def px_x(p):
    return (p - ML) / PW


def px_y(p):
    return (H - MB - p) / PH


segments = [SEG_PRE, SEG_SPIKE, SEG_MID1, SEG_MID2, SEG_LATE]
time = [p[0] for s in segments for p in s]
flux = [p[1] for s in segments for p in s]

fig = go.Figure()
fig.add_trace(go.Scatter(
    x=time, y=flux, mode="markers",
    marker=dict(size=17, color="black", line=dict(width=0)),
    showlegend=False, hoverinfo="skip",
))
fig.add_trace(go.Scatter(
    x=X_RANGE, y=[REF_FLUX, REF_FLUX], mode="lines",
    line=dict(color="#ff0000", width=3.3, dash="20px,19px"),
    showlegend=False, hoverinfo="skip",
))

axis_common = dict(
    showgrid=False, zeroline=False, showline=True, linecolor="black", linewidth=2.6,
    mirror="ticks", ticks="inside", ticklen=13, tickwidth=1.3, tickcolor="black",
    tickfont=dict(family=FONT, size=38, color="black"),
)
fig.update_xaxes(range=X_RANGE, tickvals=X_TICKS, ticktext=X_TICK_LABELS,
                 ticklabelstandoff=-8, **axis_common)
fig.update_yaxes(range=Y_RANGE, tickvals=Y_TICKS, ticktext=Y_TICK_LABELS,
                 ticklabelstandoff=6, **axis_common)

# background frame (grey strips of the screenshot)
shapes = [dict(type="rect", xref="paper", yref="paper", layer="below",
               x0=px_x(0), x1=px_x(W), y0=px_y(28), y1=px_y(0),
               fillcolor="#cdcdcd", line=dict(width=0))]
n = 24
y_start = 28
for i in range(n):
    a = y_start + (H - y_start) * i / n
    b = y_start + (H - y_start) * (i + 1) / n
    g = int(0xCF + (0xF6 - 0xCF) * i / (n - 1))
    shapes.append(dict(type="rect", xref="paper", yref="paper", layer="below",
                       x0=px_x(0), x1=px_x(18), y0=px_y(b), y1=px_y(a),
                       fillcolor=f"rgb({g},{g},{g})", line=dict(width=0)))

annotations = [
    dict(text=TITLE, xref="paper", yref="paper", x=px_x(1703), y=px_y(121),
         xanchor="center", yanchor="middle", showarrow=False,
         font=dict(family=FONT, size=81, color="black")),
    dict(text=X_LABEL, xref="paper", yref="paper", x=px_x(1502), y=px_y(1337),
         xanchor="center", yanchor="middle", showarrow=False,
         font=dict(family=FONT, size=66, color="black")),
    dict(text=Y_LABEL, xref="paper", yref="paper", x=px_x(224), y=px_y(713),
         xanchor="center", yanchor="middle", showarrow=False, textangle=-90,
         font=dict(family=FONT, size=65, color="black")),
    dict(text=X_OFFSET_TEXT, xref="paper", yref="paper", x=px_x(2624), y=px_y(1334),
         xanchor="right", yanchor="middle", showarrow=False,
         font=dict(family=FONT, size=38, color="black")),
]

fig.update_layout(
    width=W, height=H, autosize=False,
    margin=dict(l=ML, r=MR, t=MT, b=MB, pad=0),
    paper_bgcolor="white", plot_bgcolor="white",
    shapes=shapes, annotations=annotations, showlegend=False,
)

fig.write_html("out.html", include_plotlyjs=True, full_html=True,
               config={"displayModeBar": False},
               post_script="document.body.style.margin='0px';"
                           "document.body.style.overflow='hidden';")
